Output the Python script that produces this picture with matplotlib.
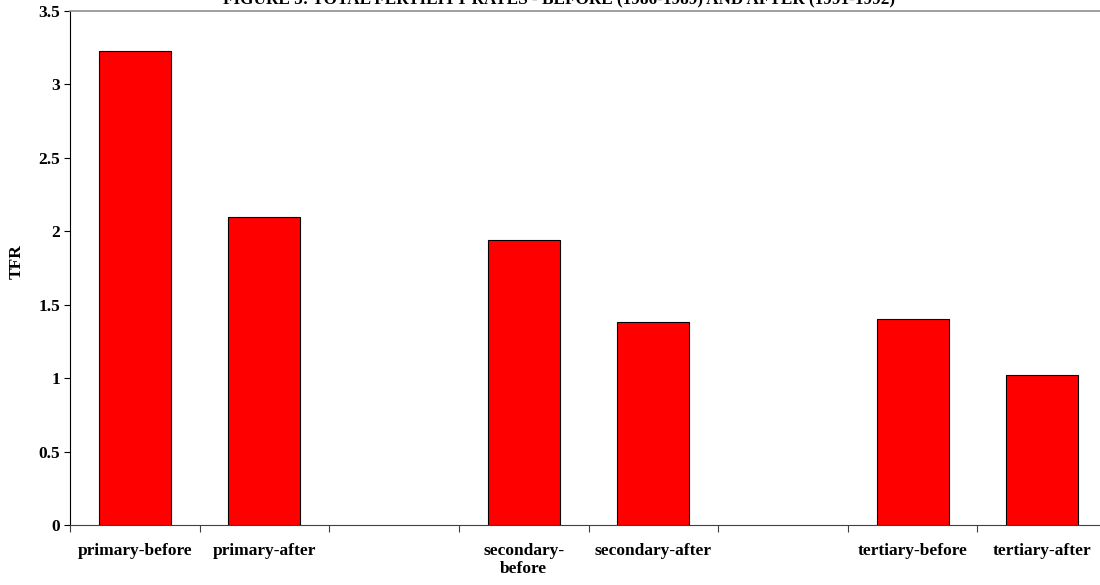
import matplotlib
matplotlib.use("Agg")
import matplotlib.pyplot as plt
import numpy as np

# Excel-style category axis: two empty slots separate the education groups
categories = ["primary-before", "primary-after", "",
              "secondary-\nbefore", "secondary-after", "",
              "tertiary-before", "tertiary-after"]
tfr = [3.23, 2.10, None, 1.94, 1.38, None, 1.40, 1.02]

plt.rcParams['font.family'] = ['Liberation Serif', 'DejaVu Serif']
plt.rcParams['font.weight'] = 'bold'

fig = plt.figure(figsize=(11, 5.85), dpi=100)
ax = fig.add_axes([70 / 1100, 60 / 585, 1037 / 1100, 514 / 585])

pos = np.arange(len(categories))
idx = [i for i, v in enumerate(tfr) if v is not None]
ax.bar(pos[idx], [tfr[i] for i in idx], width=0.556,
       color='#ff0000', edgecolor='black', linewidth=0.8, zorder=3)

ax.set_xlim(-0.5, len(categories) - 0.5)
ax.set_ylim(0, 3.5)
ax.set_yticks(np.arange(0, 3.51, 0.5))
ax.set_yticklabels(['0', '0.5', '1', '1.5', '2', '2.5', '3', '3.5'],
                   fontsize=12.5, fontweight='bold')

# tick marks sit on category boundaries, labels under the bars
ax.set_xticks(np.arange(-0.5, len(categories), 1.0))
ax.set_xticklabels([])
ax.set_xticks(pos, minor=True)
ax.set_xticklabels(categories, minor=True, fontsize=12.5, fontweight='bold',
                   linespacing=1.15)
ax.tick_params(axis='x', which='major', length=5, direction='out', color='#404040')
ax.tick_params(axis='x', which='minor', length=0, pad=13)
ax.tick_params(axis='y', length=4, direction='out', pad=3)

ax.spines['top'].set_color('#909090')
ax.spines['top'].set_linewidth(1.2)
ax.spines['right'].set_color('#909090')
ax.spines['bottom'].set_color('#404040')
ax.spines['left'].set_color('black')

fig.text(17 / 1100, 1 - 262 / 585, 'TFR', rotation=90, ha='center', va='center',
         fontsize=12.5, fontweight='bold')
fig.text(0.508, 0.985, 'FIGURE 5: TOTAL FERTILITY RATES - BEFORE (1986-1989) AND AFTER (1991-1992)',
         ha='center', va='bottom', fontsize=12.3, fontweight='bold')

fig.savefig('out.png', dpi=100)
